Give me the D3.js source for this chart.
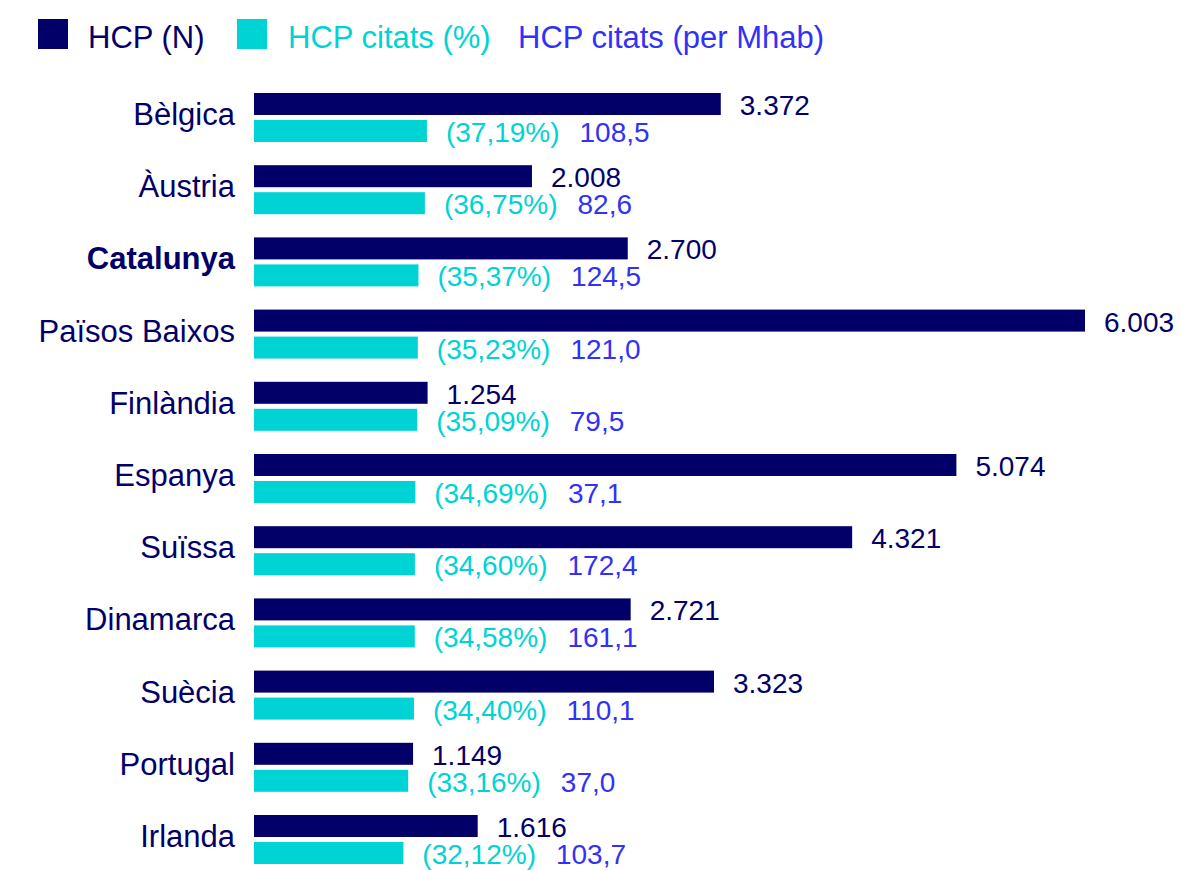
<!DOCTYPE html>
<html>
<head>
<meta charset="utf-8">
<script src="https://cdn.jsdelivr.net/npm/d3@7"></script>
<style>
  body { margin: 0; background: #fff; }
  svg text { font-family: "Liberation Sans", Arial, sans-serif; }
</style>
</head>
<body>
<div id="chart"></div>
<script>
const width = 1189;
const height = 870;

const navy = "#020068",
      cyan = "#00d3d4",
      blue = "#3232f5";

// dades
const countries = ["Bèlgica", "Àustria", "Catalunya", "Països Baixos", "Finlàndia", "Espanya", "Suïssa", "Dinamarca", "Suècia", "Portugal", "Irlanda"];
const hcpN = [3372, 2008, 2700, 6003, 1254, 5074, 4321, 2721, 3323, 1149, 1616];
const hcpPct = [37.19, 36.75, 35.37, 35.23, 35.09, 34.69, 34.60, 34.58, 34.40, 33.16, 32.12];
const hcpMhab = [108.5, 82.6, 124.5, 121.0, 79.5, 37.1, 172.4, 161.1, 110.1, 37.0, 103.7];
const legendLabels = ["HCP (N)", "HCP citats (%)", "HCP citats (per Mhab)"];
const highlight = "Catalunya";

const rows = countries.map((c, i) => ({c: c, n: hcpN[i], pct: hcpPct[i], mhab: hcpMhab[i]}));

const loc = d3.formatLocale({decimal: ",", thousands: ".", grouping: [3]});
const fmtN = loc.format(",d");
const fmt1 = loc.format(".1f");
const fmt2 = loc.format(".2f");

const x0 = 254;
const barH = 22;
const gap = 5;

const xN = d3.scaleLinear().domain([0, 6003]).range([x0, x0 + 831]);
const xP = d3.scaleLinear().domain([0, 40]).range([x0, x0 + 186]);
const y = d3.scaleBand().domain(countries).range([93, 93 + 11 * 72.2]).padding(0);

const svg = d3.select("#chart").append("svg")
    .attr("width", width)
    .attr("height", height)
    .attr("viewBox", [0, 0, width, height]);

// llegenda
const legend = svg.append("g");
legend.append("rect").attr("x", 38).attr("y", 19).attr("width", 30).attr("height", 30).attr("fill", navy);
legend.append("rect").attr("x", 237).attr("y", 19).attr("width", 30).attr("height", 30).attr("fill", cyan);
[[88, navy], [288, cyan], [518, blue]].forEach(function(p, i) {
    legend.append("text")
        .attr("x", p[0])
        .attr("y", 48)
        .attr("fill", p[1])
        .style("font-size", "31px")
        .text(legendLabels[i]);
});

// etiquetes de país
svg.append("g").selectAll("text")
    .data(rows)
    .join("text")
    .attr("x", 235)
    .attr("y", d => y(d.c) + 32)
    .attr("text-anchor", "end")
    .attr("fill", navy)
    .style("font-size", "31px")
    .style("font-weight", d => d.c === highlight ? "bold" : "normal")
    .text(d => d.c);

const row = svg.append("g").selectAll("g")
    .data(rows)
    .join("g");

row.append("rect")
    .attr("x", x0)
    .attr("y", d => y(d.c))
    .attr("width", d => xN(d.n) - x0)
    .attr("height", barH)
    .attr("fill", navy);

row.append("rect")
    .attr("x", x0)
    .attr("y", d => y(d.c) + barH + gap)
    .attr("height", barH)
    .attr("width", d => xP(d.pct) - x0)
    .attr("fill", cyan);

row.append("text")
    .attr("x", d => xN(d.n) + 19)
    .attr("y", d => y(d.c) + barH)
    .attr("fill", navy)
    .style("font-size", "28px")
    .text(d => fmtN(d.n));

const pctText = row.append("text")
    .attr("x", d => xP(d.pct) + 19)
    .attr("y", d => y(d.c) + 2 * barH + gap)
    .attr("fill", cyan)
    .style("font-size", "28px")
    .text(d => "(" + fmt2(d.pct) + "%)");

row.append("text")
    .attr("x", function(d, i) {
        const t = pctText.nodes()[i];
        return xP(d.pct) + 19 + t.getComputedTextLength() + 20;
    })
    .attr("y", d => y(d.c) + 2 * barH + gap)
    .attr("fill", blue)
    .style("font-size", "28px")
    .text(d => fmt1(d.mhab));
</script>
</body>
</html>
